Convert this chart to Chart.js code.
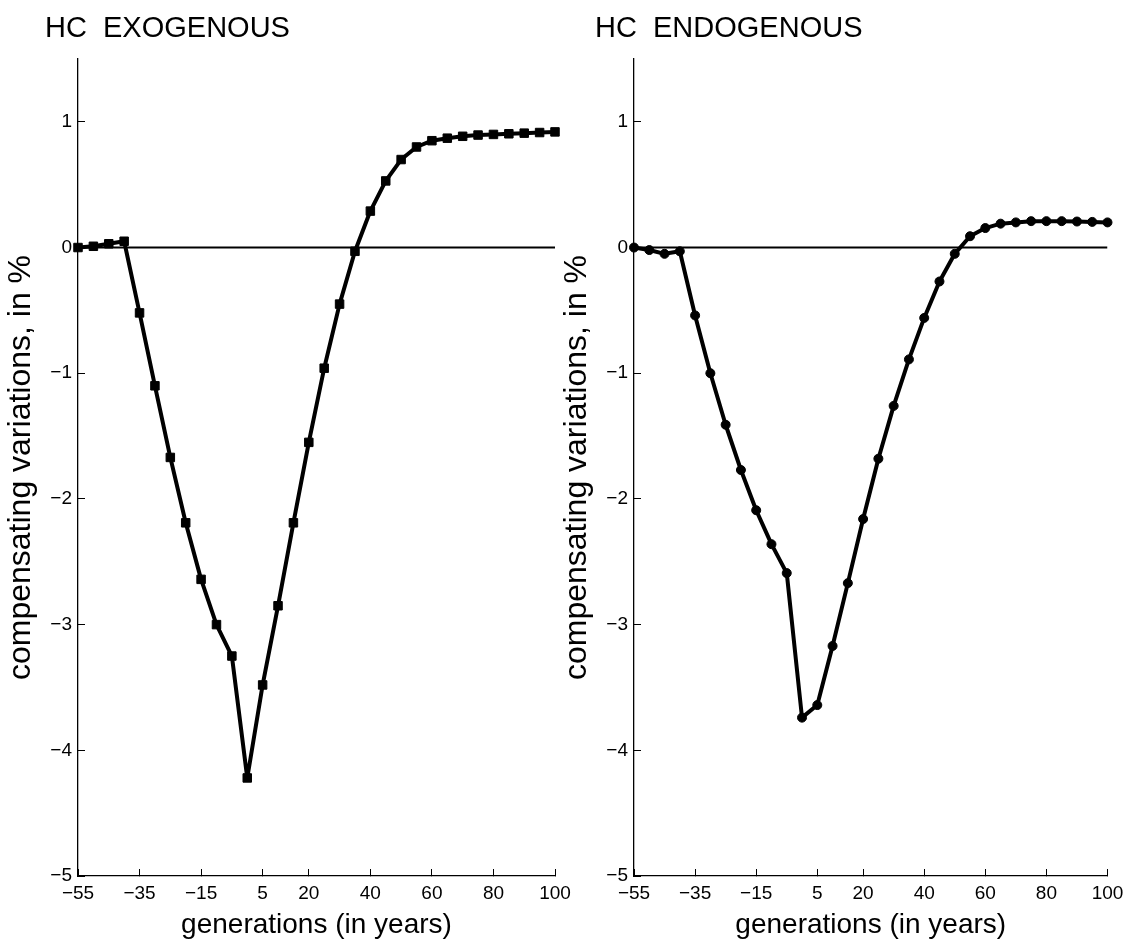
<!DOCTYPE html>
<html lang="en">
<head>
  <meta charset="UTF-8">
  <title>Compensating variations by generation</title>
  <script src="https://cdn.jsdelivr.net/npm/chart.js"></script>
  <style>
    html, body { margin: 0; padding: 0; background: #fff; }
    #wrap { position: relative; width: 1128px; height: 949px; overflow: hidden; }
    canvas { position: absolute; top: 0; }
    #exoChart { left: 0; }
    #endoChart { left: 556px; }
  </style>
</head>
<body>
<div id="wrap">
  <canvas id="exoChart" width="600" height="949"></canvas>
  <canvas id="endoChart" width="572" height="949"></canvas>
</div>
<script>
  // generations, every 5 years
  var generations = [-55, -50, -45, -40, -35, -30, -25, -20, -15, -10, -5, 0, 5, 10, 15, 20,
                     25, 30, 35, 40, 45, 50, 55, 60, 65, 70, 75, 80, 85, 90, 95, 100];

  // compensating variations (%), human capital exogenous
  var exogenous = [0, 0.01, 0.03, 0.05, -0.52, -1.10, -1.67, -2.19, -2.64, -3.00, -3.25, -4.22, -3.48, -2.85, -2.19, -1.55,
                   -0.96, -0.45, -0.03, 0.29, 0.53, 0.70, 0.80, 0.85, 0.87, 0.885, 0.895, 0.90, 0.905, 0.91, 0.915, 0.92];

  // compensating variations (%), human capital endogenous
  var endogenous = [0, -0.02, -0.05, -0.03, -0.54, -1.00, -1.41, -1.77, -2.09, -2.36, -2.59, -3.74, -3.64, -3.17, -2.67, -2.16,
                    -1.68, -1.26, -0.89, -0.56, -0.27, -0.05, 0.09, 0.155, 0.19, 0.20, 0.21, 0.21, 0.21, 0.207, 0.204, 0.20];

  var xTickValues = [-55, -35, -15, 5, 20, 40, 60, 80, 100];
  var yTickValues = [-5, -4, -3, -2, -1, 0, 1];
  var zeroLevel = 0;

  var FONT = '"Liberation Sans", Arial, Helvetica, sans-serif';

  function minusSign(v) {
    return String(v).replace('-', '\u2212');
  }

  // panel heading drawn at a fixed spot in the top-left corner
  var panelTitle = {
    id: 'panelTitle',
    afterDraw: function (chart, args, opts) {
      var ctx = chart.ctx;
      ctx.save();
      ctx.font = '29px ' + FONT;
      ctx.fillStyle = '#000';
      ctx.textBaseline = 'alphabetic';
      ctx.fillText(opts.text, opts.x, opts.y);
      ctx.restore();
    }
  };

  function makePanel(id, title, titleX, values, style, radius, yWidth, padRight) {
    var points = generations.map(function (g, i) { return { x: g, y: values[i] }; });
    var zeroLine = [
      { x: xTickValues[0], y: zeroLevel },
      { x: xTickValues[xTickValues.length - 1], y: zeroLevel }
    ];

    return new Chart(document.getElementById(id).getContext('2d'), {
      type: 'line',
      data: {
        datasets: [{
          data: points,
          borderColor: '#000',
          backgroundColor: '#000',
          borderWidth: 4,
          borderJoinStyle: 'round',
          pointStyle: style,
          pointRadius: radius,
          pointBorderWidth: 1,
          pointBackgroundColor: '#000',
          pointBorderColor: '#000',
          tension: 0,
          clip: false,
          order: 0
        }, {
          data: zeroLine,
          borderColor: '#000',
          borderWidth: 2,
          pointRadius: 0,
          tension: 0,
          order: 1
        }]
      },
      options: {
        responsive: false,
        animation: false,
        events: [],
        layout: { padding: { top: 59, right: padRight, left: 0, bottom: 0 } },
        plugins: {
          legend: { display: false },
          tooltip: { enabled: false },
          panelTitle: { text: title, x: titleX, y: 37 }
        },
        scales: {
          x: {
            type: 'linear',
            min: -55,
            max: 100,
            afterBuildTicks: function (axis) {
              axis.ticks = xTickValues.map(function (v) { return { value: v }; });
            },
            afterFit: function (axis) {
              axis.height = 73;
              axis.paddingLeft = 0;
              axis.paddingRight = 0;
            },
            border: { display: true, color: '#000', width: 1.3 },
            grid: { display: true, drawOnChartArea: false, drawTicks: true, tickLength: -7, color: '#000', lineWidth: 1 },
            ticks: {
              color: '#000',
              font: { family: FONT, size: 19 },
              padding: 13,
              autoSkip: false,
              maxRotation: 0,
              callback: function (v) { return minusSign(v); }
            },
            title: {
              display: true,
              text: 'generations (in years)',
              color: '#000',
              font: { family: FONT, size: 28 },
              padding: { top: 0, bottom: 7 }
            }
          },
          y: {
            min: -5,
            max: 1.5,
            afterBuildTicks: function (axis) {
              axis.ticks = yTickValues.map(function (v) { return { value: v }; });
            },
            afterFit: function (axis) {
              axis.width = yWidth;
            },
            border: { display: true, color: '#000', width: 1.3 },
            grid: { display: true, drawOnChartArea: false, drawTicks: true, tickLength: -7, color: '#000', lineWidth: 1 },
            ticks: {
              color: '#000',
              font: { family: FONT, size: 19 },
              padding: 13,
              callback: function (v) { return minusSign(v); }
            },
            title: {
              display: true,
              text: 'compensating variations, in %',
              color: '#000',
              font: { family: FONT, size: 32 },
              padding: { top: 2, bottom: 0 }
            }
          }
        }
      },
      plugins: [panelTitle]
    });
  }

  makePanel('exoChart', 'HC  EXOGENOUS', 45, exogenous, 'rect', 6, 78, 45);
  makePanel('endoChart', 'HC  ENDOGENOUS', 39, endogenous, 'circle', 4.5, 78, 20.5);
</script>
</body>
</html>
